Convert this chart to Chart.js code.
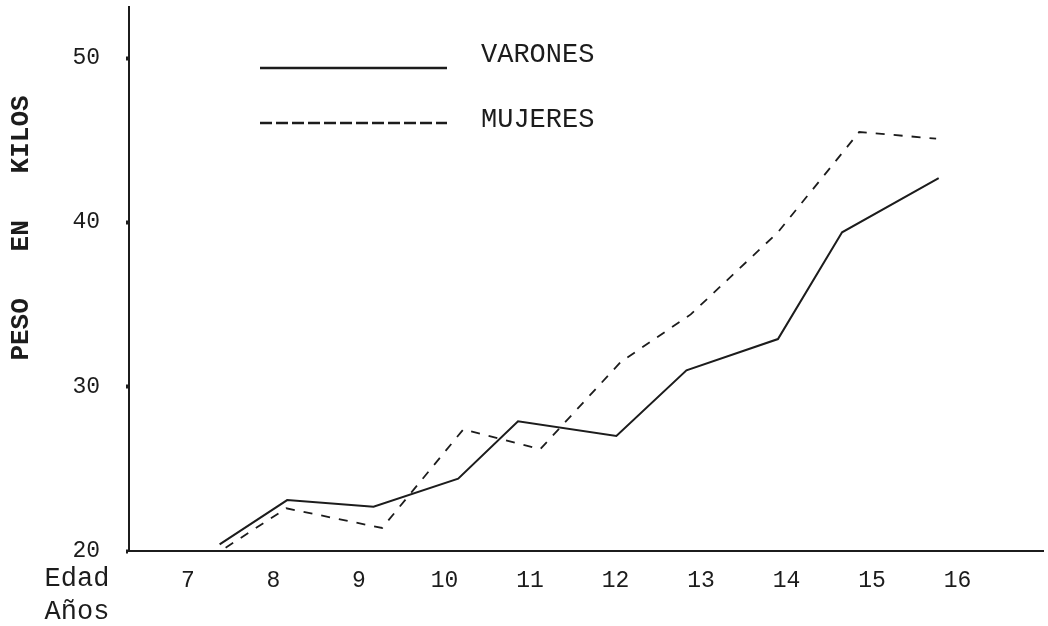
<!DOCTYPE html>
<html>
<head>
<meta charset="utf-8">
<script src="https://cdn.jsdelivr.net/npm/chart.js@4/dist/chart.umd.min.js"></script>
<style>
  html, body { margin: 0; padding: 0; background: #ffffff; }
  #wrap { width: 1048px; height: 626px; position: relative; }
</style>
</head>
<body>
<div id="wrap"><canvas id="c" width="1048" height="626"></canvas></div>
<script>
// ---- data ----
const xTicks = [7, 8, 9, 10, 11, 12, 13, 14, 15, 16];
const yTicks = [20, 30, 40, 50];

const varonesEdad = [7.37, 8.16, 9.17, 10.16, 10.86, 12.01, 12.83, 13.90, 14.65, 15.78];
const varonesPeso = [20.4, 23.1, 22.7, 24.4, 27.9, 27.0, 31.0, 32.9, 39.4, 42.7];

const mujeresEdad = [7.44, 8.15, 9.27, 10.22, 11.12, 12.06, 12.88, 13.90, 14.85, 15.75];
const mujeresPeso = [20.2, 22.6, 21.4, 27.4, 26.2, 31.5, 34.4, 39.4, 45.5, 45.1];

const seriesNames = ['VARONES', 'MUJERES'];
const xTitle = ['Edad', 'Años'];
const yTitle = 'PESO   EN   KILOS';

const ink = '#1c1c1c';
const mono = '"Liberation Mono", "DejaVu Sans Mono", monospace';

const toPoints = (xs, ys) => xs.map((x, i) => ({ x: x, y: ys[i] }));

const annotations = {
  id: 'annotations',
  afterDraw(chart) {
    const { ctx, chartArea } = chart;
    ctx.save();
    ctx.fillStyle = ink;
    // x axis caption (two lines, left of tick labels)
    ctx.font = '27px ' + mono;
    ctx.textAlign = 'center';
    ctx.textBaseline = 'middle';
    ctx.fillText(xTitle[0], chartArea.left - 52, chartArea.bottom + 28);
    ctx.fillText(xTitle[1], chartArea.left - 52, chartArea.bottom + 61);
    // y axis title, rotated
    ctx.save();
    ctx.translate(21, 228);
    ctx.rotate(-Math.PI / 2);
    ctx.font = 'bold 26px ' + mono;
    ctx.fillText(yTitle, 0, 0);
    ctx.restore();
    // legend
    const ds = chart.data.datasets;
    const rows = [61, 116];
    ds.forEach((d, i) => {
      const y = chartArea.top + rows[i];
      ctx.save();
      ctx.strokeStyle = d.borderColor;
      ctx.lineWidth = 2.5;
      ctx.setLineDash(i === 0 ? [] : [12, 4]);
      ctx.beginPath();
      ctx.moveTo(chartArea.left + 131, y);
      ctx.lineTo(chartArea.left + 318, y);
      ctx.stroke();
      ctx.restore();
      ctx.font = '27px ' + mono;
      ctx.textAlign = 'left';
      ctx.textBaseline = 'middle';
      ctx.fillText(d.label, chartArea.left + 352, y - (i === 0 ? 13 : 3));
    });
    ctx.restore();
  }
};

new Chart(document.getElementById('c'), {
  type: 'line',
  data: {
    datasets: [
      {
        label: seriesNames[0],
        data: toPoints(varonesEdad, varonesPeso),
        borderColor: ink,
        borderWidth: 2,
        pointRadius: 0,
        tension: 0,
        fill: false
      },
      {
        label: seriesNames[1],
        data: toPoints(mujeresEdad, mujeresPeso),
        borderColor: ink,
        borderWidth: 1.8,
        borderDash: [9, 9],
        pointRadius: 0,
        tension: 0,
        fill: false
      }
    ]
  },
  options: {
    responsive: false,
    animation: false,
    devicePixelRatio: 1,
    layout: { padding: { left: 0, right: 5, top: 7, bottom: 0 } },
    plugins: {
      legend: { display: false },
      tooltip: { enabled: false }
    },
    scales: {
      x: {
        type: 'linear',
        min: 6.31,
        max: 17.0,
        afterBuildTicks: (axis) => { axis.ticks = xTicks.map(v => ({ value: v })); },
        afterFit: (axis) => { axis.height = 75; axis.paddingLeft = 0; axis.paddingRight = 0; },
        grid: { display: false, drawTicks: false },
        border: { display: true, color: ink, width: 2 },
        ticks: {
          color: ink,
          font: { family: mono, size: 23 },
          padding: 16,
          maxRotation: 0,
          autoSkip: false,
          callback: (v) => String(v)
        }
      },
      y: {
        type: 'linear',
        min: 20,
        max: 53.11,
        afterBuildTicks: (axis) => { axis.ticks = yTicks.map(v => ({ value: v })); },
        afterFit: (axis) => { axis.width = 129; axis.paddingTop = 0; axis.paddingBottom = 0; },
        grid: {
          display: true,
          drawOnChartArea: false,
          drawTicks: true,
          tickLength: 3,
          tickWidth: 4,
          color: ink
        },
        border: { display: true, color: ink, width: 2 },
        ticks: {
          color: ink,
          font: { family: mono, size: 23 },
          padding: 26,
          callback: (v) => String(v)
        }
      }
    }
  },
  plugins: [annotations]
});
</script>
</body>
</html>
